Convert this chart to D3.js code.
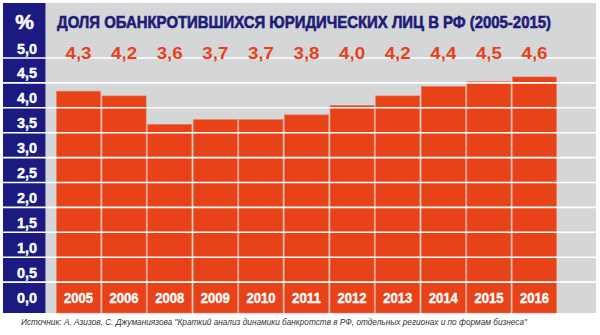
<!DOCTYPE html>
<html>
<head>
<meta charset="utf-8">
<script src="https://cdn.jsdelivr.net/npm/d3@7"></script>
<style>
  html, body { margin: 0; padding: 0; background: #ffffff; }
  svg { display: block; }
</style>
</head>
<body>
<svg id="chart" width="600" height="335"></svg>
<script>
// Data
const years = ["2005", "2006", "2008", "2009", "2010", "2011", "2012", "2013", "2014", "2015", "2016"];
const shares = [4.3, 4.2, 3.6, 3.7, 3.7, 3.8, 4.0, 4.2, 4.4, 4.5, 4.6];
const tickValues = [5.0, 4.5, 4.0, 3.5, 3.0, 2.5, 2.0, 1.5, 1.0, 0.5, 0.0];
const titleText = "ДОЛЯ ОБАНКРОТИВШИХСЯ ЮРИДИЧЕСКИХ ЛИЦ В РФ (2005-2015)";
const sourceText = "Источник: А. Азизов, С. Джуманиязова \"Краткий анализ динамики банкротств в РФ, отдельных регионах и по формам бизнеса\"";

const fmt = v => d3.format(".1f")(v).replace(".", ",");

const C = {
  navy: "#1b1a80",
  title: "#1d1c78",
  panel: "#d5d6d8",
  bar: "#e84219",
  label: "#e8401a",
  source: "#333333"
};

const svg = d3.select("#chart");

// Layout
const colLeft = 3, colRight = 45.5;
const panelRight = 596, panelTop = 3, panelBottom = 313;

// Scales
const x = d3.scaleBand().domain(years).range([56.5, 556.5]).paddingInner(0.035).paddingOuter(0);
const y = d3.scaleLinear().domain([0, 5]).range([295, 58]);
// value column: one row per tick label, separators between rows
const rowStep = 24.9;
const rowCenter = i => 48.5 + i * rowStep;
const rowLine = i => 58 + i * rowStep;

// Background panel and value column
svg.append("rect").attr("x", colRight).attr("y", panelTop)
  .attr("width", panelRight - colRight).attr("height", panelBottom - panelTop).attr("fill", C.panel);
svg.append("rect").attr("x", colLeft).attr("y", panelTop)
  .attr("width", colRight - colLeft).attr("height", panelBottom - panelTop).attr("fill", C.navy);

// Bars
svg.append("g").selectAll("rect").data(years).join("rect")
  .attr("x", d => x(d))
  .attr("y", (d, i) => y(shares[i]))
  .attr("width", x.bandwidth())
  .attr("height", (d, i) => panelBottom - y(shares[i]))
  .attr("fill", C.bar)
  .attr("stroke", "#ef7a55")
  .attr("stroke-width", 0.6);

// Row separators (white lines across the whole chart)
svg.append("g").selectAll("line").data(d3.range(10)).join("line")
  .attr("x1", colLeft).attr("x2", panelRight)
  .attr("y1", i => rowLine(i)).attr("y2", i => rowLine(i))
  .attr("stroke", "#ffffff").attr("stroke-width", 1.6);

// "%" header
svg.append("text").attr("x", 24.5).attr("y", 28.5)
  .attr("text-anchor", "middle")
  .attr("font-family", "Liberation Sans, Arial, sans-serif")
  .attr("font-weight", "bold").attr("font-size", 21)
  .attr("stroke", "#ffffff").attr("stroke-width", 0.5)
  .attr("fill", "#ffffff").text("%");

// Tick labels of the value column
svg.append("g").selectAll("text").data(tickValues).join("text")
  .attr("x", 27)
  .attr("y", (d, i) => rowCenter(i) + 5)
  .attr("text-anchor", "middle")
  .attr("font-family", "Liberation Sans, Arial, sans-serif")
  .attr("font-weight", "bold").attr("font-size", 14)
  .attr("textLength", 20).attr("lengthAdjust", "spacingAndGlyphs")
  .attr("stroke", "#ffffff").attr("stroke-width", 0.4)
  .attr("fill", "#ffffff")
  .text(d => fmt(d));

// Title
svg.append("text").attr("x", 57).attr("y", 27.5)
  .attr("font-family", "Liberation Sans, Arial, sans-serif")
  .attr("font-weight", "bold").attr("font-size", 16.5)
  .attr("textLength", 494).attr("lengthAdjust", "spacingAndGlyphs")
  .attr("stroke", C.title).attr("stroke-width", 0.6)
  .attr("fill", C.title).text(titleText);

// Value labels above the bars
svg.append("g").selectAll("text").data(years).join("text")
  .attr("x", d => x(d) + x.bandwidth() / 2)
  .attr("y", 59)
  .attr("text-anchor", "middle")
  .attr("font-family", "Liberation Sans, Arial, sans-serif")
  .attr("font-weight", "bold").attr("font-size", 16.5)
  .attr("textLength", 26).attr("lengthAdjust", "spacingAndGlyphs")
  .attr("fill", C.label)
  .text((d, i) => fmt(shares[i]));

// Year labels inside the bars
svg.append("g").selectAll("text").data(years).join("text")
  .attr("x", d => x(d) + x.bandwidth() / 2)
  .attr("y", 303)
  .attr("text-anchor", "middle")
  .attr("font-family", "Liberation Sans, Arial, sans-serif")
  .attr("font-weight", "bold").attr("font-size", 14)
  .attr("textLength", 29).attr("lengthAdjust", "spacingAndGlyphs")
  .attr("stroke", "#ffffff").attr("stroke-width", 0.35)
  .attr("fill", "#ffffff")
  .text(d => d);

// Source note
svg.append("text").attr("x", 21).attr("y", 325)
  .attr("font-family", "Liberation Sans, Arial, sans-serif")
  .attr("font-style", "italic").attr("font-size", 8.5)
  .attr("textLength", 506).attr("lengthAdjust", "spacingAndGlyphs")
  .attr("fill", C.source).text(sourceText);
</script>
</body>
</html>
